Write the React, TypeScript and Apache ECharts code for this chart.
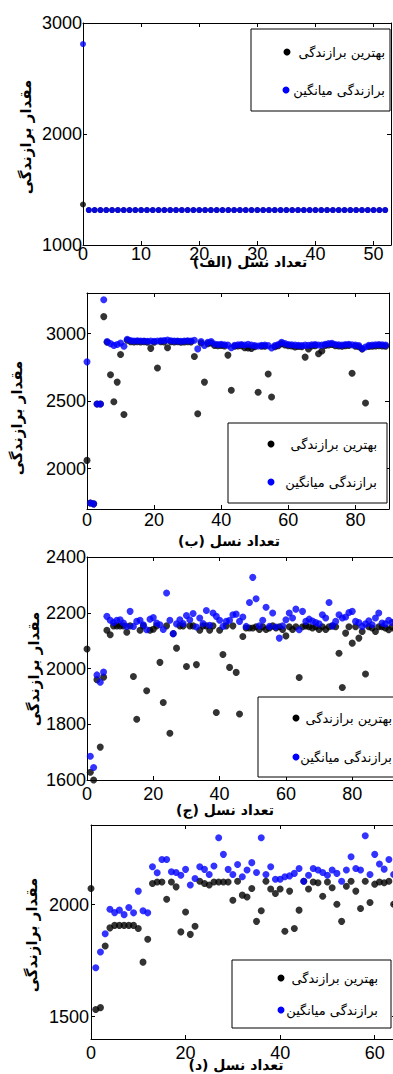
import React, { useEffect, useRef } from 'react';
import * as echarts from 'echarts';

// ---------- texts ----------
const LEGEND_BEST = 'بهترین برازندگی';
const LEGEND_MEAN = 'برازندگی میانگین';
const Y_TITLE = 'مقدار برازندگی';
const X_TITLES = ['تعداد نسل (الف)', 'تعداد نسل (ب)', 'تعداد نسل (ج)', 'تعداد نسل (د)'];

// ---------- tick labels ----------
const P1_XTICKS = [0, 10, 20, 30, 40, 50];
const P1_YTICKS = [1000, 2000, 3000];
const P2_XTICKS = [0, 20, 40, 60, 80];
const P2_YTICKS = [2000, 2500, 3000];
const P3_XTICKS = [0, 20, 40, 60, 80];
const P3_YTICKS = [1600, 1800, 2000, 2200, 2400];
const P4_XTICKS = [0, 20, 40, 60];
const P4_YTICKS = [1500, 2000];

// ---------- data (index = generation) ----------
const P1_BEST = [
  1365, 1315, 1315, 1315, 1315, 1315, 1315, 1315, 1315, 1315,
  1315, 1315, 1315, 1315, 1315, 1315, 1315, 1315, 1315, 1315,
  1315, 1315, 1315, 1315, 1315, 1315, 1315, 1315, 1315, 1315,
  1315, 1315, 1315, 1315, 1315, 1315, 1315, 1315, 1315, 1315,
  1315, 1315, 1315, 1315, 1315, 1315, 1315, 1315, 1315, 1315,
  1315, 1315, 1315,
];
const P1_MEAN = [
  2810, 1315, 1315, 1315, 1315, 1315, 1315, 1315, 1315, 1315,
  1315, 1315, 1315, 1315, 1315, 1315, 1315, 1315, 1315, 1315,
  1315, 1315, 1315, 1315, 1315, 1315, 1315, 1315, 1315, 1315,
  1315, 1315, 1315, 1315, 1315, 1315, 1315, 1315, 1315, 1315,
  1315, 1315, 1315, 1315, 1315, 1315, 1315, 1315, 1315, 1315,
  1315, 1315, 1315,
];

const P2_BEST = [
  2060, 1745, 1738, 2478, 2478, 3125, 2935, 2695, 2495, 2640,
  2845, 2400, 2950, 2940, 2938, 2940, 2938, 2940, 2936, 2890,
  2935, 2745, 2940, 2938, 2895, 2940, 2938, 2940, 2936, 2938,
  2940, 2938, 2830, 2405, 2930, 2640, 2925, 2930, 2912, 2910,
  2912, 2908, 2840, 2580, 2905, 2908, 2910, 2895, 2893, 2890,
  2902, 2565, 2905, 2906, 2700, 2530, 2902, 2910, 2925, 2915,
  2910, 2908, 2900, 2904, 2902, 2825, 2885, 2908, 2910, 2850,
  2870, 2912, 2915, 2918, 2910, 2908, 2906, 2910, 2912, 2705,
  2906, 2902, 2885, 2485, 2904, 2906, 2908, 2910, 2908, 2906,
];
const P2_MEAN = [
  2790, 1745, 1738, 2478, 2478, 3250, 2940, 2925, 2912, 2918,
  2930, 2905, 2958, 2948, 2945, 2946, 2944, 2945, 2943, 2944,
  2942, 2944, 2946, 2948, 2952, 2946, 2944, 2945, 2943, 2944,
  2946, 2944, 2950, 2886, 2940, 2912, 2935, 2940, 2922, 2918,
  2920, 2916, 2914, 2895, 2912, 2916, 2918, 2915, 2920, 2914,
  2910, 2908, 2912, 2914, 2910, 2893, 2910, 2918, 2935, 2925,
  2918, 2916, 2914, 2912, 2910, 2914, 2912, 2916, 2918, 2915,
  2914, 2920, 2925, 2928, 2918, 2916, 2914, 2918, 2920, 2916,
  2914, 2910, 2888, 2900, 2912, 2914, 2916, 2918, 2916, 2914,
];

const P3_BEST = [
  2070, 1628, 1600, 1960, 1718, 1969, 2137, 2121, 2153, 2153,
  2153, 2153, 2130, 2153, 1971, 1818, 2137, 2153, 1920, 2137,
  2141, 2153, 2022, 1878, 2153, 1768, 2125, 2073, 2153, 2153,
  2007, 2153, 2153, 2014, 2137, 2153, 2153, 2137, 2153, 1842,
  2137, 2050, 2153, 2004, 2153, 1986, 1837, 2115, 2145, 2145,
  2145, 2150, 2140, 2150, 2140, 2145, 2153, 2145, 2150, 2140,
  2117, 2150, 2140, 2150, 1968, 2150, 2153, 2150, 2145, 2150,
  2140, 2150, 2140, 2150, 2153, 2150, 2055, 1932, 2127, 2150,
  2091, 2150, 2109, 2133, 1980, 2150, 2145, 2133, 2150, 2150,
  2145, 2139, 2150, 2140,
];
const P3_MEAN = [
  null, 1685, 1645, 1977, 1951, 1987, 2187, 2173, 2165, 2173,
  2175, 2163, 2151, 2205, 2151, 2169, 2173, 2157, 2139, 2177,
  2183, 2163, 2157, 2140, 2271, 2173, 2125, 2160, 2175, 2161,
  2190, 2175, 2197, 2149, 2181, 2161, 2208, 2155, 2199, 2187,
  2173, 2151, 2169, 2173, 2193, 2195, 2169, 2185, 2151, 2237,
  2327, 2250, 2153, 2173, 2220, 2151, 2199, 2149, 2109, 2153,
  2175, 2199, 2181, 2213, 2139, 2205, 2169, 2177, 2170, 2165,
  2160, 2193, 2181, 2237, 2153, 2169, 2193, 2181, 2185, 2201,
  2205, 2169, 2165, 2151, 2160, 2171, 2157, 2181, 2199, 2163,
  2160, 2173, 2165, 2170,
];

const P4_BEST = [
  2072, 1532, 1540, 1815, 1896, 1907, 1907, 1907, 1907, 1907,
  1893, 1743, 1845, 2094, 2101, 2101, 2024, 2101, 2079, 1878,
  1967, 1867, 1903, 2104, 2094, 2087, 2101, 2101, 2101, 2101,
  2019, 2104, 2042, 2034, 2072, 1925, 1972, 2104, 2069, 2049,
  2069, 1881, 2060, 1893, 1975, 2104, 2069, 2101, 2097, 2037,
  2101, 2075, 2001, 1925, 2082, 2104, 2060, 1982, 2104, 2009,
  2091, 2101, 2097, 2104, 2001,
];
const P4_MEAN = [
  null, 1718, 1788, 1870, 1979, 1964, 1975, 1955, 1987, 1963,
  2060, 1972, 1963, 2169, 2142, 2201, 2201, 2146, 2143, 2131,
  2157, 2087, 2116, 2169, 2157, 2134, 2172, 2298, 2224, 2157,
  2134, 2179, 2124, 2154, 2187, 2143, 2298, 2134, 2169, 2113,
  2113, 2124, 2128, 2139, 2161, 2104, 2131, 2161, 2154, 2143,
  2131, 2154, 2139, 2104, 2154, 2213, 2161, 2154, 2307, 2134,
  2224, 2181, 2158, 2201, 2134,
];

// ---------- layout ----------
const PANELS = [
  { best: P1_BEST, mean: P1_MEAN, xt: P1_XTICKS, yt: P1_YTICKS, xmax: 53, ymin: 1000, ymax: 3000,
    grid: { left: 83, top: 23, width: 308, height: 222 }, xm: 0, ym: 1, sym: 6,
    ytitle: [26, 137], xtitle: [250, 262],
    legend: { box: [251, 29, 139, 82], m1: [287, 52], m2: [286, 90], tx: 385 } },
  { best: P2_BEST, mean: P2_MEAN, xt: P2_XTICKS, yt: P2_YTICKS, xmax: 90, ymin: 1700, ymax: 3300,
    grid: { left: 87, top: 293, width: 302, height: 216 }, xm: 2, ym: 1, sym: 7,
    ytitle: [17, 418], xtitle: [229, 541],
    legend: { box: [228, 423, 159, 80], m1: [271, 444], m2: [271, 482], tx: 377 } },
  { best: P3_BEST, mean: P3_MEAN, xt: P3_XTICKS, yt: P3_YTICKS, xmax: 93.5, ymin: 1600, ymax: 2400,
    grid: { left: 87, top: 557, width: 310, height: 223 }, xm: 5, ym: 1, sym: 7,
    ytitle: [34, 669], xtitle: [225, 810],
    legend: { box: [258, 697, 150, 80], m1: [296, 718], m2: [296, 757], tx: 392 } },
  { best: P4_BEST, mean: P4_MEAN, xt: P4_XTICKS, yt: P4_YTICKS, xmax: 64.5, ymin: 1400, ymax: 2355,
    grid: { left: 91, top: 825, width: 305, height: 214 }, xm: 5, ym: 2, sym: 7,
    ytitle: [32, 935], xtitle: [236, 1065],
    legend: { box: [232, 960, 159, 68], m1: [281, 978], m2: [281, 1010], tx: 378 } },
];

const toPts = (arr: (number | null)[]) =>
  arr.map((v, i) => (v == null ? null : [i, v])).filter((p) => p !== null);

const TICK_FONT = 'Liberation Sans';
const AR_FONT = 'DejaVu Sans';
const plain = (v: number) => String(v);

function buildOption() {
  const grid: any[] = [];
  const xAxis: any[] = [];
  const yAxis: any[] = [];
  const series: any[] = [];
  const graphic: any[] = [];

  PANELS.forEach((p, i) => {
    grid.push({ ...p.grid, show: false, containLabel: false });
    const lineStyle = { color: '#000', width: 1 };
    const baseX = {
      type: 'value', gridIndex: i, min: 0, max: p.xmax,
      axisLine: { show: true, onZero: false, lineStyle },
      splitLine: { show: false },
      axisTick: { show: true, inside: true, length: 4, customValues: p.xt, lineStyle },
    };
    xAxis.push({
      ...baseX, position: 'bottom',
      axisLabel: { show: true, customValues: p.xt, formatter: plain, margin: p.xm, color: '#000', fontFamily: TICK_FONT, fontSize: 18 },
    });
    xAxis.push({ ...baseX, position: 'top', axisLabel: { show: false } });
    const baseY = {
      type: 'value', gridIndex: i, min: p.ymin, max: p.ymax,
      axisLine: { show: true, onZero: false, lineStyle },
      splitLine: { show: false },
      axisTick: { show: true, inside: true, length: 4, customValues: p.yt, lineStyle },
    };
    yAxis.push({
      ...baseY, position: 'left',
      axisLabel: { show: true, customValues: p.yt, formatter: plain, margin: p.ym, color: '#000', fontFamily: TICK_FONT, fontSize: 18 },
    });
    yAxis.push({ ...baseY, position: 'right', axisLabel: { show: false } });

    series.push({
      type: 'scatter', name: LEGEND_BEST, xAxisIndex: 2 * i, yAxisIndex: 2 * i,
      data: toPts(p.best), symbol: 'circle', symbolSize: p.sym,
      itemStyle: { color: '#000000' }, z: 2,
    });
    series.push({
      type: 'scatter', name: LEGEND_MEAN, xAxisIndex: 2 * i, yAxisIndex: 2 * i,
      data: toPts(p.mean), symbol: 'circle', symbolSize: p.sym,
      itemStyle: { color: '#0000ff' }, z: 3,
    });

    graphic.push({
      type: 'text', x: p.ytitle[0], y: p.ytitle[1], rotation: Math.PI / 2, z: 50,
      style: { text: Y_TITLE, fill: '#000', fontFamily: AR_FONT, fontWeight: 'bold', fontSize: 15, align: 'center', verticalAlign: 'middle' },
    });
    graphic.push({
      type: 'text', x: p.xtitle[0], y: p.xtitle[1], z: 50,
      style: { text: X_TITLES[i], fill: '#000', fontFamily: AR_FONT, fontWeight: 'bold', fontSize: 14, align: 'center', verticalAlign: 'middle' },
    });
    const L = p.legend;
    graphic.push({
      type: 'rect', z: 60,
      shape: { x: L.box[0], y: L.box[1], width: L.box[2], height: L.box[3] },
      style: { fill: '#fff', stroke: '#000', lineWidth: 1 },
    });
    graphic.push({ type: 'circle', z: 61, shape: { cx: L.m1[0], cy: L.m1[1], r: 3.5 }, style: { fill: '#000' } });
    graphic.push({ type: 'circle', z: 61, shape: { cx: L.m2[0], cy: L.m2[1], r: 3.5 }, style: { fill: '#0000ff' } });
    graphic.push({
      type: 'text', z: 61, x: L.tx, y: L.m1[1],
      style: { text: LEGEND_BEST, fill: '#000', fontFamily: AR_FONT, fontSize: 13, align: 'right', verticalAlign: 'middle' },
    });
    graphic.push({
      type: 'text', z: 61, x: L.tx, y: L.m2[1],
      style: { text: LEGEND_MEAN, fill: '#000', fontFamily: AR_FONT, fontSize: 13, align: 'right', verticalAlign: 'middle' },
    });
  });

  return {
    animation: false,
    backgroundColor: '#ffffff',
    grid, xAxis, yAxis, series, graphic,
  };
}

export default function App() {
  const ref = useRef<HTMLDivElement>(null);
  useEffect(() => {
    if (!ref.current) return;
    const chart = echarts.init(ref.current, undefined, { renderer: 'svg' });
    chart.setOption(buildOption() as any);
    return () => chart.dispose();
  }, []);
  return (
    <div style={{ position: 'absolute', left: 0, top: 0, width: 393, height: 1074, overflow: 'hidden', background: '#fff' }}>
      <div ref={ref} style={{ width: 430, height: 1074 }} />
    </div>
  );
}
